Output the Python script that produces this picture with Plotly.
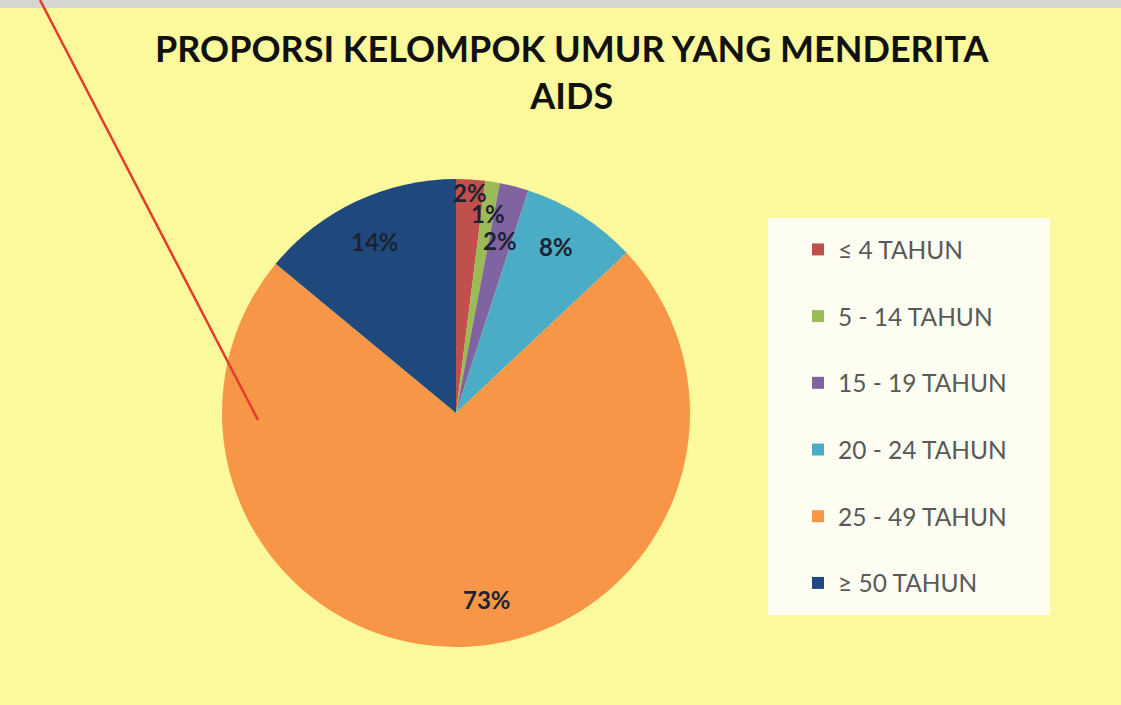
import math
import plotly.graph_objects as go

# ---- data ----
categories = ["≤ 4 TAHUN", "5 - 14 TAHUN", "15 - 19 TAHUN", "20 - 24 TAHUN", "25 - 49 TAHUN", "≥ 50 TAHUN"]
percent = [2, 1, 2, 8, 73, 14]
colors = ["#C0504D", "#9BBB59", "#8064A2", "#4BACC6", "#F79646", "#1F497D"]
label_radius = [0.945, 0.865, 0.76, 0.83, 0.81, 0.81]
label_angle_shift = [0, 0, 0, -1.5, -7.6, 0]  # degrees, label placement tweak
title_lines = ["PROPORSI KELOMPOK UMUR YANG MENDERITA", "AIDS"]

W, H = 1121, 705
cx, cy, R = 456, 413, 234  # pie centre / radius in px

dom_x = [(cx - R) / W, (cx + R) / W]
dom_y = [1 - (cy + R) / H, 1 - (cy - R) / H]

legend_labels = [c + "<br>\u00a0" for c in categories]

fig = go.Figure()
fig.add_trace(go.Pie(
    labels=legend_labels,
    values=percent,
    marker=dict(colors=colors, line=dict(width=0)),
    sort=False,
    direction="clockwise",
    rotation=0,
    textinfo="none",
    hoverinfo="label+percent",
    domain=dict(x=dom_x, y=dom_y),
    showlegend=True,
))

# percentage labels placed on slice mid-angles
total = sum(percent)
cum = 0
annotations = []
for v, rf, sh in zip(percent, label_radius, label_angle_shift):
    mid = (cum + v / 2) / total * 2 * math.pi + math.radians(sh)
    cum += v
    px = cx + rf * R * math.sin(mid)
    py = cy - rf * R * math.cos(mid)
    annotations.append(dict(
        x=px / W, y=1 - py / H, xref="paper", yref="paper",
        xanchor="center", yanchor="middle",
        text=f"<b>{v}%</b>", showarrow=False,
        font=dict(family="Lato", size=24, color="#1b2333"),
    ))

annotations.append(dict(
    x=572 / W, y=1 - 24 / H, xref="paper", yref="paper", xanchor="center", yanchor="top",
    text="<b>" + "<br>".join(title_lines) + "</b>", showarrow=False, align="center",
    font=dict(family="Lato", size=36, color="#111111"),
))

shapes = [
    # top gray strip
    dict(type="rect", xref="paper", yref="paper", x0=0, x1=1, y0=1 - 8 / H, y1=1,
         fillcolor="#D6D6D0", line=dict(width=0), layer="below"),
    # legend box
    dict(type="rect", xref="paper", yref="paper", x0=768 / W, x1=1050 / W,
         y0=1 - 615 / H, y1=1 - 218 / H, fillcolor="#FDFDF1", line=dict(width=0), layer="below"),
    # red pointer line
    dict(type="line", xref="paper", yref="paper", x0=40 / W, y0=1, x1=258 / W, y1=1 - 420 / H,
         line=dict(color="#E63B2A", width=2.5), layer="above"),
]

fig.update_layout(
    width=W, height=H,
    margin=dict(l=0, r=0, t=0, b=0),
    paper_bgcolor="#FCF99C",
    plot_bgcolor="#FCF99C",
    legend=dict(x=798 / W, xanchor="left", y=1 - 227 / H, yanchor="top",
                bgcolor="rgba(0,0,0,0)", font=dict(family="Lato", size=24.5, color="#595959"),
                valign="top", traceorder="normal"),
    annotations=annotations,
    shapes=shapes,
)

fig.write_html("out.html", config=dict(displayModeBar=False),
               post_script="document.body.style.margin='0';document.body.style.overflow='hidden';")
